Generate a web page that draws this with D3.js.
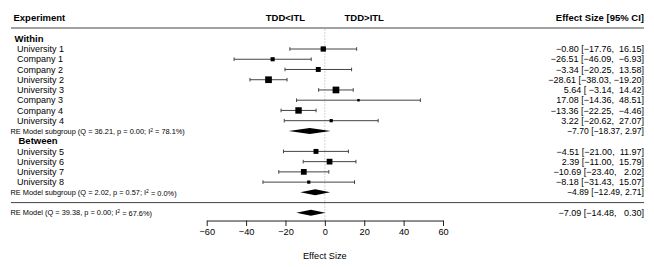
<!DOCTYPE html>
<html>
<head>
<meta charset="utf-8">
<script src="https://cdn.jsdelivr.net/npm/d3@7"></script>
<style>
  body { margin: 0; background: #fff; }
  svg text { font-family: "Liberation Sans", Arial, Helvetica, sans-serif; white-space: pre; }
</style>
</head>
<body>
<div id="chart"></div>
<script>
// study level data
var labels = ["University 1", "Company 1", "Company 2", "University 2", "University 3", "Company 3",
              "Company 4", "University 4", "University 5", "University 6", "University 7", "University 8"];
var groups = ["Within", "Within", "Within", "Within", "Within", "Within", "Within", "Within",
              "Between", "Between", "Between", "Between"];
var estimates = [-0.80, -26.51, -3.34, -28.61, 5.64, 17.08, -13.36, 3.22, -4.51, 2.39, -10.69, -8.18];
var lower = [-17.76, -46.09, -20.25, -38.03, -3.14, -14.36, -22.25, -20.62, -21.00, -11.00, -23.40, -31.43];
var upper = [16.15, -6.93, 13.58, -19.20, 14.42, 48.51, -4.46, 27.07, 11.97, 15.79, 2.02, 15.07];
var weights = [8.4, 6.8, 7.9, 10.3, 10.3, 4.6, 9.9, 5.6, 7.9, 9.0, 9.0, 5.6];

// subgroup models
var subNames = ["Within", "Between"];
var subEst = [-7.70, -4.89];
var subLower = [-18.37, -12.49];
var subUpper = [2.97, 2.71];
var subQ = [36.21, 2.02];
var subP = [0.00, 0.57];
var subI2 = [78.1, 0.0];

// overall model
var reEst = -7.09, reLower = -14.48, reUpper = 0.30;
var reQ = 39.38, reP = 0.00, reI2 = 67.6;

var xTicks = [-60, -40, -20, 0, 20, 40, 60];
var sideLabels = [{ v: -20, t: "TDD<ITL" }, { v: 20, t: "TDD>ITL" }];

var width = 654, height = 267;
var left = 11, right = 644;

var svg = d3.select("#chart").append("svg")
  .attr("width", width)
  .attr("height", height);

var x = d3.scaleLinear().domain([-60, 60]).range([206.7, 443]);
var y = d3.scaleLinear().domain([0, 1]).range([49, 59.24]); // row index -> pixel

var minus = "\u2212";
function fmt(v) { return (v < 0 ? minus : "") + Math.abs(v).toFixed(2); }
function pad(s, n) { while (s.length < n) s = " " + s; return s; }
function ciText(e, l, u, padded) {
  if (!padded) return fmt(e) + " [" + fmt(l) + ", " + fmt(u) + "]";
  return pad(fmt(e), 6) + " [" + pad(fmt(l), 6) + ", " + pad(fmt(u), 6) + "]";
}

// work out rows
var rows = [];
var r = 0;
subNames.forEach(function(g, gi) {
  if (gi > 0) { rows.push({ type: "head", name: g, row: r }); r++; }
  else rows.push({ type: "head", name: g, row: -1 });
  labels.forEach(function(l, i) {
    if (groups[i] === g) { rows.push({ type: "study", i: i, row: r }); r++; }
  });
  rows.push({ type: "sub", i: gi, row: r }); r++;
});
var sepRow = r, reRow = r + 1;

var wSize = d3.scaleLinear().domain(d3.extent(weights)).range([2.5, 6.7]);

// header
svg.append("text").attr("x", 13.5).attr("y", y(-3.1)).attr("dy", "0.35em")
  .style("font-size", "9.5px").style("font-weight", "bold").text("Experiment");
svg.append("text").attr("x", right).attr("y", y(-3.1)).attr("dy", "0.35em")
  .attr("text-anchor", "end")
  .style("font-size", "9.5px").style("font-weight", "bold").text("Effect Size [95% CI]");
svg.selectAll(".side").data(sideLabels).enter().append("text")
  .attr("x", function(d) { return x(d.v); })
  .attr("y", y(-3.1)).attr("dy", "0.35em")
  .attr("text-anchor", "middle")
  .style("font-size", "9.5px").style("font-weight", "bold")
  .text(function(d) { return d.t; });

// separator lines
[-2.05, sepRow].forEach(function(rr) {
  svg.append("line").attr("x1", left).attr("x2", right)
    .attr("y1", y(rr)).attr("y2", y(rr))
    .attr("stroke", "#444").attr("stroke-width", 1);
});

// zero reference line
svg.append("line")
  .attr("x1", x(0)).attr("x2", x(0))
  .attr("y1", y(-1.9)).attr("y2", y(16.75))
  .attr("stroke", "#aaa").attr("stroke-dasharray", "1,2");

// group headers
rows.filter(function(d) { return d.type === "head"; }).forEach(function(d) {
  svg.append("text").attr("x", d.name === "Within" ? 14.5 : 18.5)
    .attr("y", y(d.row)).attr("dy", "0.35em")
    .style("font-size", "9.5px").style("font-weight", "bold").text(d.name);
});

// studies
var st = rows.filter(function(d) { return d.type === "study"; });
var sg = svg.selectAll(".study").data(st).enter().append("g").attr("class", "study");

sg.append("text").attr("x", 17).attr("y", function(d) { return y(d.row); }).attr("dy", "0.35em")
  .style("font-size", "9px").text(function(d) { return labels[d.i]; });
sg.append("text").attr("x", right).attr("y", function(d) { return y(d.row); }).attr("dy", "0.35em")
  .attr("text-anchor", "end").attr("xml:space", "preserve")
  .style("font-size", "9px")
  .text(function(d) { return ciText(estimates[d.i], lower[d.i], upper[d.i], true); });

sg.append("line")
  .attr("x1", function(d) { return x(lower[d.i]); })
  .attr("x2", function(d) { return x(upper[d.i]); })
  .attr("y1", function(d) { return y(d.row); })
  .attr("y2", function(d) { return y(d.row); })
  .attr("stroke", "#444");
[lower, upper].forEach(function(arr) {
  sg.append("line")
    .attr("x1", function(d) { return x(arr[d.i]); })
    .attr("x2", function(d) { return x(arr[d.i]); })
    .attr("y1", function(d) { return y(d.row) - 1.8; })
    .attr("y2", function(d) { return y(d.row) + 1.8; })
    .attr("stroke", "#444");
});
sg.append("rect")
  .attr("x", function(d) { return x(estimates[d.i]) - wSize(weights[d.i]) / 2; })
  .attr("y", function(d) { return y(d.row) - wSize(weights[d.i]) / 2; })
  .attr("width", function(d) { return wSize(weights[d.i]); })
  .attr("height", function(d) { return wSize(weights[d.i]); })
  .attr("fill", "#000");

// diamonds
function diamond(e, l, u, rr) {
  var yy = y(rr), h = 3;
  return "M" + x(l) + "," + yy + "L" + x(e) + "," + (yy - h) + "L" + x(u) + "," + yy +
         "L" + x(e) + "," + (yy + h) + "Z";
}
function modelLabel(prefix, q, p, i2, yy) {
  var t = svg.append("text").attr("x", 10.5).attr("y", yy).attr("dy", "0.35em")
    .style("font-size", "7.4px");
  t.append("tspan").text(prefix + " (Q = " + q.toFixed(2) + ", p = " + p.toFixed(2) + "; I");
  t.append("tspan").attr("dy", "-0.4em").style("font-size", "5px").text("2");
  t.append("tspan").attr("dy", "0.4em").text(" = " + i2.toFixed(1) + "%)");
}

rows.filter(function(d) { return d.type === "sub"; }).forEach(function(d) {
  var i = d.i;
  svg.append("path").attr("d", diamond(subEst[i], subLower[i], subUpper[i], d.row)).attr("fill", "#000");
  modelLabel("RE Model subgroup", subQ[i], subP[i], subI2[i], y(d.row));
  svg.append("text").attr("x", right).attr("y", y(d.row)).attr("dy", "0.35em")
    .attr("text-anchor", "end").style("font-size", "8.6px")
    .text(ciText(subEst[i], subLower[i], subUpper[i], false));
});

svg.append("path").attr("d", diamond(reEst, reLower, reUpper, reRow)).attr("fill", "#000");
modelLabel("RE Model", reQ, reP, reI2, y(reRow));
svg.append("text").attr("x", right).attr("y", y(reRow)).attr("dy", "0.35em")
  .attr("text-anchor", "end").attr("xml:space", "preserve").style("font-size", "9px")
  .text(ciText(reEst, reLower, reUpper, true));

// x axis
var axisY = y(16.75);
var ax = svg.append("g")
  .attr("transform", "translate(0," + axisY + ")")
  .call(d3.axisBottom(x).tickValues(xTicks).tickSize(5.5).tickSizeOuter(0).tickPadding(2.5)
    .tickFormat(function(d) { return d < 0 ? minus + Math.abs(d) : d; }));
ax.select(".domain").attr("stroke", "#222");
ax.selectAll(".tick line").attr("stroke", "#222");
ax.selectAll(".tick text").style("font-size", "9.2px").attr("fill", "#000")
  .style("font-family", "'Liberation Sans', Arial, Helvetica, sans-serif");

svg.append("text").attr("x", x(0)).attr("y", 256).attr("dy", "0.35em")
  .attr("text-anchor", "middle").style("font-size", "9.2px").text("Effect Size");
</script>
</body>
</html>
